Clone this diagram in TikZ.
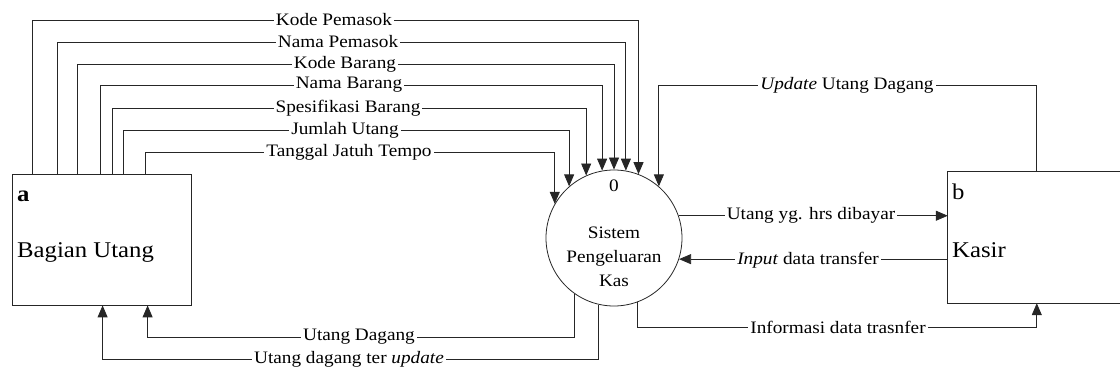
\documentclass[tikz,border=0pt]{standalone}
\usepackage{fontspec}
\setmainfont{Liberation Serif}[FakeStretch=1.1]
\usetikzlibrary{arrows.meta}
\begin{document}
\begin{tikzpicture}[x=1pt,y=-1pt,
  flow/.style={draw=black!85,line width=0.8pt},
  arr/.style={flow,-{Triangle[length=12pt,width=10pt]}},
  lbl/.style={fill=white,inner sep=2pt,font=\fontsize{17.5}{21}\selectfont},
  ent/.style={rectangle,minimum width=179pt,minimum height=131pt,inner sep=0pt},
  big/.style={font=\fontsize{22.5}{26}\selectfont,inner sep=0pt,anchor=west}]
\useasboundingbox (0,0) rectangle (1120,374);
% entities
\node[ent,draw=black!85,line width=0.8pt] (a) at (101.5,239.5) {};
\node[ent,minimum width=172pt] (b) at (1034,237.5) {};
\draw[flow] (b.north east) -- (b.north west) -- (b.south west) -- (b.south east);
\node[big,font=\fontsize{22.5}{26}\selectfont\bfseries] (aid) at (17,196) {a};
\node[big] (aname) at (17,252) {Bagian Utang};
\node[big] (bid) at (952,192) {b};
\node[big] (bname) at (952,250) {Kasir};
% process
\node[circle,draw=black!85,line width=0.8pt,minimum size=136pt,inner sep=0pt] (circ) at (614,238) {};
\node[lbl,fill=none] (pid) at (614,186) {0};
\node[lbl,fill=none,align=center,font=\fontsize{17.5}{24}\selectfont] (pname) at (614,257) {Sistem\\Pengeluaran\\Kas};
% top flows from a
\draw[arr] ([xshift=21pt]a.north west) |- (circ.69.3 |- 0,20) -- (circ.69.3);
\draw[arr] ([xshift=46pt]a.north west) |- (circ.80.7 |- 0,42) -- (circ.80.7);
\draw[arr] ([xshift=66pt]a.north west) |- (circ.90 |- 0,64) -- (circ.90);
\draw[arr] ([xshift=89pt]a.north west) |- (circ.100.2 |- 0,85) -- (circ.100.2);
\draw[arr] ([xshift=101pt]a.north west) |- (circ.114.3 |- 0,108) -- (circ.114.3);
\draw[arr] ([xshift=112pt]a.north west) |- (circ.131.4 |- 0,130) -- (circ.131.4);
\draw[arr] ([xshift=134pt]a.north west) |- (circ.150.2 |- 0,152) -- (circ.150.2);
\node[lbl] (l1) at (334,20) {Kode Pemasok};
\node[lbl] (l2) at (338,42) {Nama Pemasok};
\node[lbl] (l3) at (345,64) {Kode Barang};
\node[lbl] (l4) at (349,85) {Nama Barang};
\node[lbl] (l5) at (348,108) {Spesifikasi Barang};
\node[lbl] (l6) at (345,130) {Jumlah Utang};
\node[lbl] (l7) at (349,152) {Tanggal Jatuh Tempo};
% update from b
\draw[arr] ([xshift=89pt]b.north west) |- (circ.49.7 |- 0,85) -- (circ.49.7);
\node[lbl] (l8) at (847,85) {\textit{Update} Utang Dagang};
% b <-> circ
\draw[arr] (circ.19.8) -- (b.west |- circ.19.8);
\node[lbl] (l9) at (811,215) {Utang yg. hrs dibayar};
\draw[arr] (b.west |- circ.-18.9) -- (circ.-18.9);
\node[lbl] (l10) at (808,260) {\textit{Input} data transfer};
\draw[arr] (circ.-70.2) |- ([xshift=89pt]b.south west |- 0,327) -- ([xshift=89pt]b.south west);
\node[lbl] (l11) at (838,327) {Informasi data trasnfer};
% circ -> a
\draw[arr] (circ.-125) |- ([xshift=136pt]a.south west |- 0,337) -- ([xshift=136pt]a.south west);
\node[lbl] (l12) at (359,337) {Utang Dagang};
\draw[arr] (circ.-103.6) |- ([xshift=91pt]a.south west |- 0,359) -- ([xshift=91pt]a.south west);
\node[lbl] (l13) at (349,359) {Utang dagang ter \textit{update}};
\end{tikzpicture}
\end{document}
